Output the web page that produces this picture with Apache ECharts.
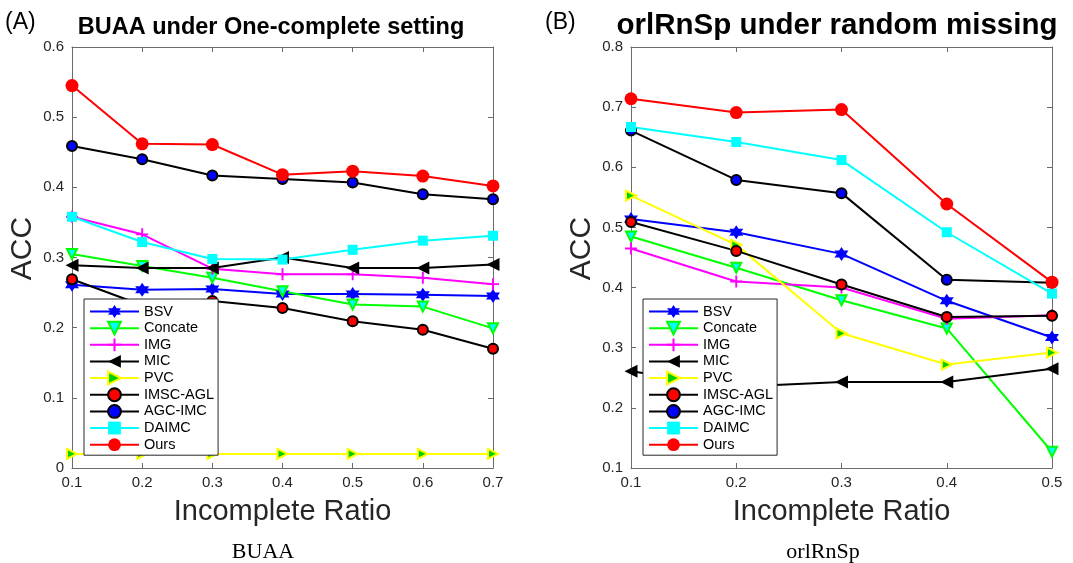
<!DOCTYPE html>
<html>
<head>
<meta charset="utf-8">
<script src="https://cdn.jsdelivr.net/npm/echarts@6/dist/echarts.min.js"></script>
<style>
  html, body { margin: 0; background: #fff; }
  #main { width: 1073px; height: 563px; }
</style>
</head>
<body>
<div id="main"></div>
<script>
// incomplete ratios (x)
var ratioA = [0.1, 0.2, 0.3, 0.4, 0.5, 0.6, 0.7];
var ratioB = [0.1, 0.2, 0.3, 0.4, 0.5];
var methods = ['BSV', 'Concate', 'IMG', 'MIC', 'PVC', 'IMSC-AGL', 'AGC-IMC', 'DAIMC', 'Ours'];

// (A) BUAA, one-complete setting
var bsvA     = [0.261, 0.254, 0.255, 0.248, 0.248, 0.247, 0.245];
var concateA = [0.305, 0.288, 0.271, 0.252, 0.233, 0.230, 0.199];
var imgA     = [0.358, 0.333, 0.284, 0.276, 0.276, 0.271, 0.262];
var micA     = [0.289, 0.285, 0.285, 0.300, 0.285, 0.285, 0.290];
var pvcA     = [0.020, 0.020, 0.020, 0.020, 0.020, 0.020, 0.020];
var imscA    = [0.269, 0.232, 0.238, 0.228, 0.209, 0.197, 0.170];
var agcA     = [0.459, 0.440, 0.417, 0.412, 0.407, 0.390, 0.383];
var daimcA   = [0.358, 0.322, 0.298, 0.297, 0.311, 0.324, 0.331];
var oursA    = [0.545, 0.462, 0.461, 0.418, 0.423, 0.416, 0.402];

// (B) orlRnSp, random missing
var bsvB     = [0.514, 0.492, 0.456, 0.378, 0.317];
var concateB = [0.485, 0.433, 0.379, 0.332, 0.127];
var imgB     = [0.465, 0.410, 0.400, 0.348, 0.354];
var micB     = [0.261, 0.235, 0.243, 0.243, 0.265];
var pvcB     = [0.553, 0.471, 0.324, 0.272, 0.292];
var imscB    = [0.509, 0.461, 0.405, 0.351, 0.353];
var agcB     = [0.661, 0.579, 0.557, 0.413, 0.408];
var daimcB   = [0.667, 0.642, 0.612, 0.492, 0.390];
var oursB    = [0.714, 0.691, 0.696, 0.539, 0.409];

var valsA = [bsvA, concateA, imgA, micA, pvcA, imscA, agcA, daimcA, oursA];
var valsB = [bsvB, concateB, imgB, micB, pvcB, imscB, agcB, daimcB, oursB];

var SANS = 'Liberation Sans, Arial, sans-serif';
var SERIF = 'Liberation Serif, Times New Roman, serif';

// six-pointed star marker
function starPath() {
  var p = [];
  for (var i = 0; i < 12; i++) {
    var r = i % 2 ? 5.77 : 10;
    var a = -Math.PI / 2 + i * Math.PI / 6;
    p.push((10 + r * Math.cos(a)).toFixed(2) + ',' + (10 + r * Math.sin(a)).toFixed(2));
  }
  return 'path://M' + p.join('L') + 'Z';
}
var plus = 'path://M4.2,0H5.8V4.2H10V5.8H5.8V10H4.2V5.8H0V4.2H4.2Z';

var look = {
  'BSV':      {line: '#0000ff', fill: '#0000ff', edge: '#0000ff', symbol: starPath(), size: 14, bw: 0},
  'Concate':  {line: '#00ff00', fill: '#00ffff', edge: '#00ff00', symbol: 'triangle', rotate: 180, size: 10, bw: 2},
  'IMG':      {line: '#ff00ff', fill: '#ff00ff', edge: '#ff00ff', symbol: plus, size: 12, bw: 0},
  'MIC':      {line: '#000000', fill: '#000000', edge: '#000000', symbol: 'triangle', rotate: 90, size: 13, bw: 0},
  'PVC':      {line: '#ffff00', fill: '#00d000', edge: '#ffff00', symbol: 'triangle', rotate: -90, size: 10, bw: 2},
  'IMSC-AGL': {line: '#000000', fill: '#ff0000', edge: '#000000', symbol: 'circle', size: 10, bw: 2},
  'AGC-IMC':  {line: '#000000', fill: '#0000ff', edge: '#000000', symbol: 'circle', size: 10, bw: 2},
  'DAIMC':    {line: '#00ffff', fill: '#00ffff', edge: '#00ffff', symbol: 'rect', size: 10, bw: 0},
  'Ours':     {line: '#ff0000', fill: '#ff0000', edge: '#ff0000', symbol: 'circle', size: 13, bw: 0}
};

function mk(name, xs, ys, idx) {
  var s = look[name];
  return {
    name: name,
    type: 'line',
    xAxisIndex: idx,
    yAxisIndex: idx,
    data: xs.map(function (x, i) { return [x, ys[i]]; }),
    symbol: s.symbol,
    symbolSize: s.size,
    symbolRotate: s.rotate || 0,
    showAllSymbol: true,
    lineStyle: {color: s.line, width: 2},
    itemStyle: {color: s.fill, borderColor: s.edge, borderWidth: s.bw},
    emphasis: {disabled: true}
  };
}

var axisGray = '#6b6b6b';
function xAx(grid, max, top) {
  return {
    gridIndex: grid, type: 'value', min: 0.1, max: max, interval: 0.1,
    position: top ? 'top' : 'bottom',
    name: top ? '' : 'Incomplete Ratio', nameLocation: 'middle', nameGap: 29,
    nameTextStyle: {fontSize: 29, color: '#262626', fontFamily: SANS},
    axisLine: {onZero: false, lineStyle: {color: axisGray, width: 1}},
    axisTick: {inside: true, length: 5, lineStyle: {color: axisGray}},
    axisLabel: {show: !top, fontSize: 15, color: '#262626', fontFamily: SANS, margin: 7},
    splitLine: {show: false}
  };
}
function yAx(grid, min, max, right) {
  return {
    gridIndex: grid, type: 'value', min: min, max: max, interval: 0.1,
    position: right ? 'right' : 'left',
    name: right ? '' : 'ACC', nameLocation: 'middle', nameGap: 34, nameRotate: 90,
    nameTextStyle: {fontSize: 30, color: '#262626', fontFamily: SANS, padding: [0, 0, 0, 18]},
    axisLine: {onZero: false, lineStyle: {color: axisGray, width: 1}},
    axisTick: {inside: true, length: 5, lineStyle: {color: axisGray}},
    axisLabel: {show: !right, fontSize: 15, color: '#262626', fontFamily: SANS, margin: 8},
    splitLine: {show: false}
  };
}

// MATLAB-style boxed legend, drawn over the lines; long names spill past the box
function legend(left) {
  return {
    data: methods, left: left, top: 299, orient: 'vertical',
    padding: [5, 4, 3, 5],
    itemWidth: 49, itemHeight: 16, itemGap: 1.65, selectedMode: false,
    backgroundColor: '#fff', borderColor: '#262626', borderWidth: 1,
    textStyle: {fontSize: 14.5, color: '#000', fontFamily: SANS, width: 60, overflow: 'none'}
  };
}

function txt(x, y, text, size, weight, family, align) {
  return {
    type: 'text', x: x, y: y, silent: true,
    style: {text: text, fontSize: size, fontWeight: weight, fontFamily: family,
            fill: '#000', align: align || 'center', verticalAlign: 'middle'}
  };
}

var series = [];
methods.forEach(function (m, i) { series.push(mk(m, ratioA, valsA[i], 0)); });
methods.forEach(function (m, i) { series.push(mk(m, ratioB, valsB[i], 1)); });

var chart = echarts.init(document.getElementById('main'));
chart.setOption({
  animation: false,
  backgroundColor: '#fff',
  grid: [
    {left: 72, top: 47, width: 421, height: 421},
    {left: 631, top: 47, width: 421, height: 421}
  ],
  xAxis: [xAx(0, 0.7, false), xAx(1, 0.5, false), xAx(0, 0.7, true), xAx(1, 0.5, true)],
  yAxis: [yAx(0, 0, 0.6, false), yAx(1, 0.1, 0.8, false), yAx(0, 0, 0.6, true), yAx(1, 0.1, 0.8, true)],
  legend: [legend(84), legend(643)],
  graphic: [
    txt(5, 23, '(A)', 23, 'normal', SANS, 'left'),
    txt(545, 23, '(B)', 23, 'normal', SANS, 'left'),
    txt(271, 28, 'BUAA under One-complete setting', 23.5, 'bold', SANS),
    txt(837, 26, 'orlRnSp under random missing', 29.5, 'bold', SANS),
    txt(263, 552, 'BUAA', 22, 'normal', SERIF),
    txt(823, 552, 'orlRnSp', 22, 'normal', SERIF)
  ],
  series: series
});
</script>
</body>
</html>
